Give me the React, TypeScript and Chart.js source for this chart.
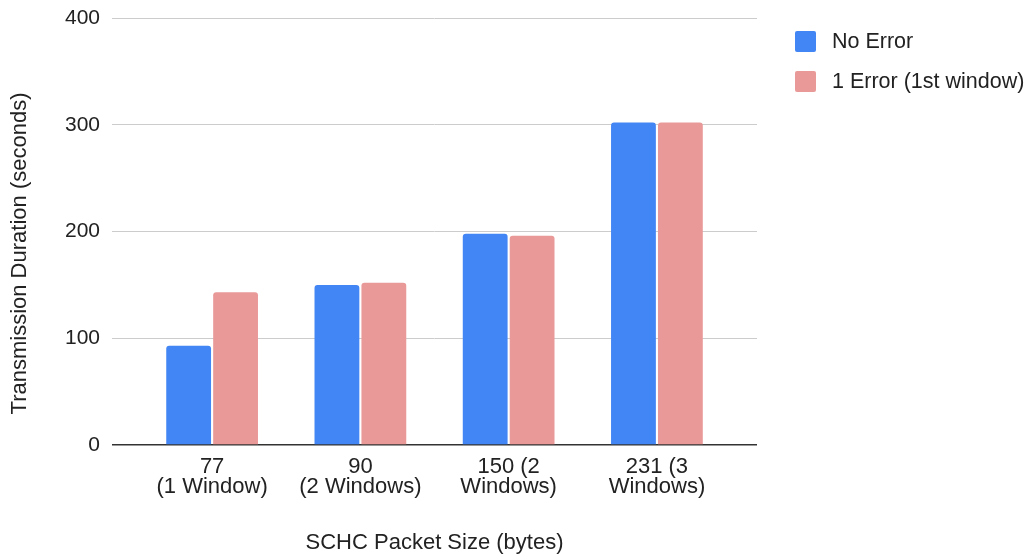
import React, { useEffect, useRef } from "react";
import { Chart, registerables } from "chart.js";

Chart.register(...registerables);

// Packet sizes on the x axis (two-line labels)
const categories: string[][] = [
  ["77", "(1 Window)"],
  ["90", "(2 Windows)"],
  ["150 (2", "Windows)"],
  ["231 (3", "Windows)"],
];

// Transmission duration in seconds
const noError: number[] = [93, 150, 198, 302];
const oneError: number[] = [143, 152, 196, 302];

const seriesLabels: string[] = ["No Error", "1 Error (1st window)"];
const seriesColors: string[] = ["#4285F4", "#EA9999"];

const yTicks: number[] = [0, 100, 200, 300, 400];

const yTitle = "Transmission Duration (seconds)";
const xTitle = "SCHC Packet Size (bytes)";

const FONT = "'Liberation Sans', Arial, sans-serif";
const TEXT = "#222222";

// Legend on the right and the rotated y-axis title, drawn on the canvas
const sideDecor = {
  id: "sideDecor",
  afterDraw(chart: Chart) {
    const ctx = chart.ctx;
    ctx.save();
    ctx.font = `21.5px ${FONT}`;
    ctx.textBaseline = "middle";
    ctx.textAlign = "left";
    chart.data.datasets.forEach((ds: any, i: number) => {
      const top = 31 + i * 40;
      ctx.fillStyle = ds.backgroundColor as string;
      ctx.beginPath();
      (ctx as any).roundRect(795, top, 21, 21, 2);
      ctx.fill();
      ctx.fillStyle = TEXT;
      ctx.fillText(ds.label, 832, top + 11);
    });

    ctx.translate(20, 253.5);
    ctx.rotate(-Math.PI / 2);
    ctx.textAlign = "center";
    ctx.font = `22px ${FONT}`;
    ctx.fillStyle = TEXT;
    ctx.fillText(yTitle, 0, 0);
    ctx.restore();
  },
};

export default function App() {
  const canvasRef = useRef<HTMLCanvasElement | null>(null);

  useEffect(() => {
    if (!canvasRef.current) return;
    const chart = new Chart(canvasRef.current, {
      type: "bar",
      data: {
        labels: categories.map((_, i) => i),
        datasets: [
          {
            label: seriesLabels[0],
            data: noError,
            backgroundColor: seriesColors[0],
            borderRadius: 3,
            categoryPercentage: 0.633,
            barPercentage: 0.955,
          },
          {
            label: seriesLabels[1],
            data: oneError,
            backgroundColor: seriesColors[1],
            borderRadius: 3,
            categoryPercentage: 0.633,
            barPercentage: 0.955,
          },
        ],
      },
      options: {
        animation: false,
        responsive: true,
        maintainAspectRatio: false,
        layout: { padding: { left: 60, top: 18, right: 273, bottom: 0 } },
        plugins: {
          legend: { display: false },
          tooltip: { enabled: false },
        },
        scales: {
          x: {
            type: "linear",
            offset: false,
            min: -0.675,
            max: 3.675,
            afterBuildTicks: (axis: any) => {
              axis.ticks = categories.map((_, i) => ({ value: i }));
            },
            grid: { display: false, drawTicks: false },
            border: { display: false },
            ticks: {
              autoSkip: false,
              maxRotation: 0,
              padding: 12,
              color: TEXT,
              font: { family: FONT, size: 22, lineHeight: 20 / 22 },
              callback: (v: any) => categories[Math.round(Number(v))] ?? "",
            },
            title: {
              display: true,
              text: xTitle,
              color: TEXT,
              font: { family: FONT, size: 22, lineHeight: 1 },
              padding: { top: 23, bottom: 1 },
            },
          },
          y: {
            min: 0,
            max: 400,
            afterBuildTicks: (axis: any) => {
              axis.ticks = yTicks.map((v) => ({ value: v }));
            },
            grid: {
              drawTicks: true,
              tickLength: 7,
              tickColor: "rgba(0,0,0,0)",
              color: (c: any) => (c.tick && c.tick.value === 0 ? "#333333" : "#cccccc"),
              lineWidth: (c: any) => (c.tick && c.tick.value === 0 ? 1.5 : 1),
            },
            border: { display: false },
            ticks: {
              padding: 5,
              color: TEXT,
              font: { family: FONT, size: 21 },
            },
          },
        },
      },
      plugins: [sideDecor],
    });
    return () => chart.destroy();
  }, []);

  return (
    <div style={{ position: "absolute", left: 0, top: 0, width: 1030, height: 555, background: "#ffffff" }}>
      <canvas ref={canvasRef} />
    </div>
  );
}
